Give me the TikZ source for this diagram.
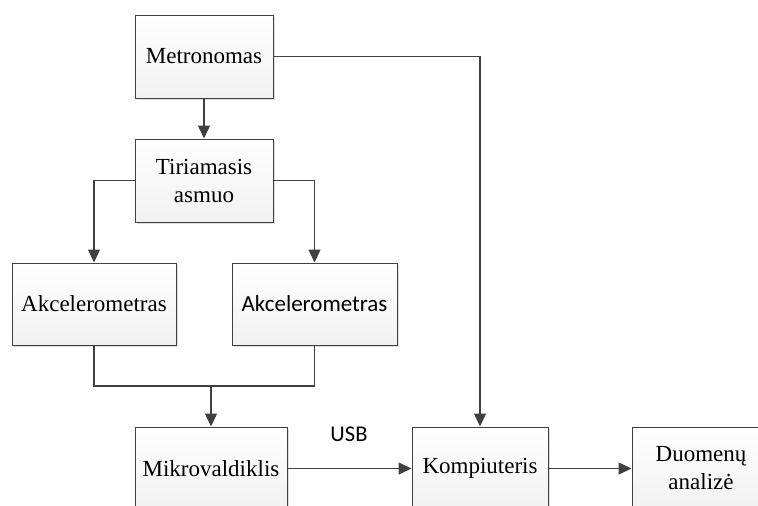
\documentclass[tikz,border=0pt]{standalone}
\usepackage{fontspec}
\setmainfont{Liberation Serif}
\newfontfamily\calibfont{Carlito}
\usetikzlibrary{arrows.meta,shadows}

\definecolor{linegray}{HTML}{404040}
\definecolor{boxbottom}{HTML}{F1F1F1}
\definecolor{shadowgray}{HTML}{DEDEDE}

\begin{document}
\begin{tikzpicture}[x=1pt,y=-1pt,
  blk/.style={draw=linegray, line width=1pt,
    top color=white, bottom color=boxbottom,
    drop shadow={shadow xshift=2pt, shadow yshift=-2pt, fill=shadowgray, opacity=1},
    align=center, inner sep=0pt,
    font=\fontsize{23}{28}\selectfont},
  conn/.style={draw=linegray, line width=1.5pt},
  arr/.style={conn, -{Triangle[length=13pt,width=12pt]}},
]
\useasboundingbox (0,0) rectangle (758,506);
\clip (0,0) rectangle (758,506);

% blocks
\node[blk, minimum width=138pt, minimum height=83pt] (met) at (204,56.5) {Metronomas};
\node[blk, minimum width=138pt, minimum height=83pt] (tir) at (204,180.5) {Tiriamasis\\asmuo};
\node[blk, minimum width=164pt, minimum height=82pt] (ak1) at (94,304) {Akcelerometras};
\node[blk, minimum width=165pt, minimum height=82pt, font=\calibfont\fontsize{23}{28}\selectfont] (ak2) at (314.5,304) {Akcelerometras};
\node[blk, minimum width=152pt, minimum height=83pt] (mik) at (211,468.5) {Mikrovaldiklis};
\node[blk, minimum width=136pt, minimum height=83pt] (kom) at (480,468.5) {Kompiuteris};
\node[blk, minimum width=138pt, minimum height=83pt] (duo) at (701,468.5) {Duomenų\\analizė};

% connectors
\coordinate (join) at (211,386);
\draw[arr] (met.south) -- (tir.north);
\draw[arr] (met.east) -| (kom.north);
\draw[arr] (tir.west) -| (ak1.north);
\draw[arr] (tir.east) -| (ak2.north);
\draw[conn] (ak1.south) |- (join) -| (ak2.south);
\draw[arr] (join) -- (mik.north);
\draw[arr] (mik.east) -- (kom.west);
\draw[arr] (kom.east) -- (duo.west);

\node[font=\calibfont\fontsize{22.5}{27}\selectfont, inner sep=0pt] (usb) at (349,434) {USB};
\end{tikzpicture}
\end{document}
